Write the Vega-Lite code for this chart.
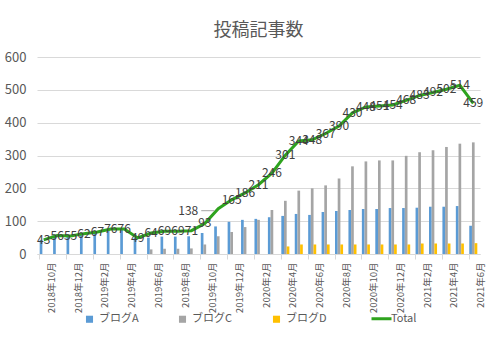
{
  "$schema": "https://vega.github.io/schema/vega-lite/v6.json",
  "width": 443,
  "height": 197,
  "padding": {"left": 4, "top": 22, "right": 12, "bottom": 5},
  "background": "white",
  "title": {"text": "投稿記事数", "fontSize": 18, "font": "Noto Sans CJK JP", "fontWeight": "normal", "color": "#595959", "offset": 11},
  "config": {
    "view": {"stroke": null},
    "font": "Noto Sans CJK JP",
    "axisY": {"title": null, "values": [0,100,200,300,400,500,600], "labelFontSize": 13, "labelColor": "#595959", "ticks": false, "domain": false, "gridColor": "#d9d9d9", "labelPadding": 11}
  },
  "data": {"values": [
    {"month": "2018年10月", "ブログA": 43, "Total": 43},
    {"month": "2018年11月", "ブログA": 56, "Total": 56},
    {"month": "2018年12月", "ブログA": 55, "Total": 55},
    {"month": "2019年1月", "ブログA": 62, "Total": 62},
    {"month": "2019年2月", "ブログA": 67, "Total": 67},
    {"month": "2019年3月", "ブログA": 76, "Total": 76},
    {"month": "2019年4月", "ブログA": 76, "Total": 76},
    {"month": "2019年5月", "ブログA": 49, "Total": 49},
    {"month": "2019年6月", "ブログA": 50, "ブログC": 14, "Total": 64},
    {"month": "2019年7月", "ブログA": 53, "ブログC": 16, "Total": 69},
    {"month": "2019年8月", "ブログA": 53, "ブログC": 16, "Total": 69},
    {"month": "2019年9月", "ブログA": 54, "ブログC": 17, "Total": 71},
    {"month": "2019年10月", "ブログA": 64, "ブログC": 29, "Total": 93},
    {"month": "2019年11月", "ブログA": 84, "ブログC": 54, "Total": 138},
    {"month": "2019年12月", "ブログA": 98, "ブログC": 67, "Total": 165},
    {"month": "2020年1月", "ブログA": 104, "ブログC": 82, "Total": 186},
    {"month": "2020年2月", "ブログA": 107, "ブログC": 104, "Total": 211},
    {"month": "2020年3月", "ブログA": 112, "ブログC": 134, "Total": 246},
    {"month": "2020年4月", "ブログA": 116, "ブログC": 162, "ブログD": 23, "Total": 301},
    {"month": "2020年5月", "ブログA": 122, "ブログC": 193, "ブログD": 29, "Total": 344},
    {"month": "2020年6月", "ブログA": 119, "ブログC": 200, "ブログD": 29, "Total": 348},
    {"month": "2020年7月", "ブログA": 128, "ブログC": 209, "ブログD": 29, "Total": 367},
    {"month": "2020年8月", "ブログA": 131, "ブログC": 230, "ブログD": 29, "Total": 390},
    {"month": "2020年9月", "ブログA": 134, "ブログC": 267, "ブログD": 29, "Total": 430},
    {"month": "2020年10月", "ブログA": 137, "ブログC": 282, "ブログD": 29, "Total": 448},
    {"month": "2020年11月", "ブログA": 137, "ブログC": 285, "ブログD": 29, "Total": 451},
    {"month": "2020年12月", "ブログA": 140, "ブログC": 285, "ブログD": 29, "Total": 454},
    {"month": "2021年1月", "ブログA": 140, "ブログC": 299, "ブログD": 29, "Total": 468},
    {"month": "2021年2月", "ブログA": 141, "ブログC": 310, "ブログD": 32, "Total": 483},
    {"month": "2021年3月", "ブログA": 144, "ブログC": 316, "ブログD": 32, "Total": 492},
    {"month": "2021年4月", "ブログA": 144, "ブログC": 326, "ブログD": 32, "Total": 502},
    {"month": "2021年5月", "ブログA": 146, "ブログC": 336, "ブログD": 32, "Total": 514},
    {"month": "2021年6月", "ブログA": 86, "ブログC": 340, "ブログD": 33, "Total": 459}
  ]},
  "encoding": {
    "x": {
      "field": "month", "type": "ordinal", "sort": null,
      "scale": {"paddingInner": 0.4, "paddingOuter": 0.2},
      "axis": {
        "title": null,
        "values": ["2018年10月","2018年12月","2019年2月","2019年4月","2019年6月","2019年8月","2019年10月","2019年12月","2020年2月","2020年4月","2020年6月","2020年8月","2020年10月","2020年12月","2021年2月","2021年4月","2021年6月"],
        "labelAngle": -90,
        "labelFontSize": 9.5,
        "labelColor": "#595959",
        "labelFont": "Noto Sans CJK JP",
        "bandPosition": 0,
        "labelOffset": 8,
        "tickColor": "#d9d9d9",
        "domainColor": "#d9d9d9",
        "tickSize": 5,
        "labelPadding": 3,
        "grid": false
      }
    }
  },
  "layer": [
    {
      "transform": [{"fold": ["ブログA", "ブログC", "ブログD"], "as": ["series", "value"]}],
      "mark": {"type": "bar"},
      "encoding": {
        "y": {"field": "value", "type": "quantitative", "scale": {"domain": [0, 600]}},
        "xOffset": {"field": "series", "type": "nominal", "sort": ["ブログA", "ブログC", "ブログD"]},
        "color": {
          "field": "series", "type": "nominal",
          "scale": {"domain": ["ブログA", "ブログC", "ブログD", "Total"], "range": ["#5B9BD5", "#A5A5A5", "#FFC000", "#2EA31E"]},
          "legend": {
            "orient": "none", "legendX": 47, "legendY": 256,
            "direction": "horizontal", "title": null,
            "labelFontSize": 11, "labelColor": "#595959", "columnPadding": 38,
            "symbolSize": 50,
            "encode": {"symbols": {"update": {
              "shape": {"signal": "datum.value === 'Total' ? 'stroke' : 'square'"},
              "size": {"signal": "datum.value === 'Total' ? 400 : 50"},
              "strokeWidth": {"signal": "datum.value === 'Total' ? 3 : 0"},
              "stroke": {"scale": "color", "field": "value"},
              "fill": {"scale": "color", "field": "value"}
            }}}
          }
        }
      }
    },
    {
      "mark": {"type": "line", "strokeWidth": 3},
      "encoding": {
        "y": {"field": "Total", "type": "quantitative"},
        "color": {"datum": "Total"}
      }
    },
    {
      "transform": [{"filter": "datum.Total != 138"}],
      "mark": {"type": "text", "fontSize": 12, "color": "#404040", "align": "center", "baseline": "middle"},
      "encoding": {
        "y": {"field": "Total", "type": "quantitative"},
        "text": {"field": "Total", "type": "quantitative"}
      }
    },
    {
      "transform": [{"filter": "datum.Total == 138"}],
      "mark": {"type": "text", "fontSize": 12, "color": "#404040", "align": "center", "baseline": "middle", "dx": -30, "dy": 2},
      "encoding": {
        "y": {"field": "Total", "type": "quantitative"},
        "text": {"field": "Total", "type": "quantitative"}
      }
    },
    {
      "transform": [{"filter": "datum.Total == 138"}],
      "mark": {"type": "rule", "color": "#a6a6a6", "strokeWidth": 1, "xOffset": -17, "x2Offset": -4, "yOffset": 2, "y2Offset": 0},
      "encoding": {
        "x": {"field": "month", "type": "ordinal", "sort": null},
        "x2": {"field": "month"},
        "y": {"field": "Total", "type": "quantitative"}
      }
    }
  ]
}
